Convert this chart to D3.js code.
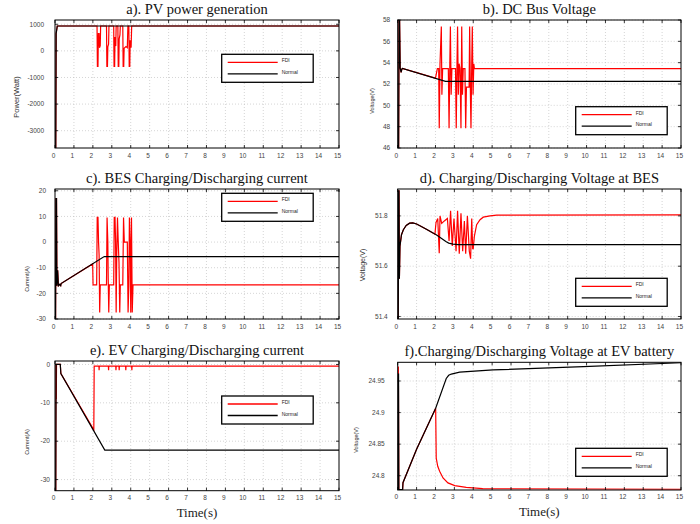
<!DOCTYPE html>
<meta charset="utf-8">
<script src="https://cdnjs.cloudflare.com/ajax/libs/d3/7.8.5/d3.min.js"></script>
<body style="margin: 0; background: white;">
<svg id="vis"></svg>
<script>

  /***** DATA (time in s, value) *****/

  var xTicks = d3.range(0, 16)

  // a). PV power
  var pvTicks = [-3000, -2000, -1000, 0, 1000]
  var pvNormal = [[0,-3650],[0.04,-3650],[0.06,650],[0.12,935],[15,935]]
  var pvFdi = [[0,-3650],[0.04,-3650],[0.06,650],[0.12,935],[2.22,935],[2.24,-580],[2.27,-580],[2.29,650],[2.33,650],[2.35,120],[2.39,200],[2.41,935],
    [2.72,935],[2.74,-580],[2.77,-580],[2.79,150],[2.83,250],[2.85,935],[3.1,935],[3.12,-580],[3.15,-580],[3.17,520],[3.21,180],[3.23,935],
    [3.32,935],[3.34,-580],[3.37,-580],[3.39,450],[3.43,600],[3.45,935],[3.58,935],[3.6,-580],[3.63,-580],[3.65,100],[3.75,160],[3.82,120],[3.85,935],
    [3.9,935],[3.92,-580],[3.95,-580],[3.97,400],[4.02,120],[4.05,935],[15,935]]

  // b). DC bus voltage
  var busTicks = [46, 48, 50, 52, 54, 56, 58]
  var busNormal = [[0,46],[0.05,46],[0.07,58],[0.1,58],[0.13,53.5],[0.18,53.1],[0.22,53.4],[0.25,53.45],[2.53,52.25],[15,52.25]]
  var busFdi = [[0,46],[0.05,46],[0.07,58],[0.1,58],[0.13,53.5],[0.18,53.1],[0.22,53.4],[0.25,53.45],[2.0,52.55],[2.1,53.45],[2.17,53.45],
    [2.2,47.85],[2.24,53.9],[2.31,57.4],[2.34,51.0],[2.38,53.45],[2.68,53.45],[2.72,47.85],[2.76,53.9],[2.79,57.4],[2.83,51.0],[2.87,53.45],
    [3.06,53.45],[3.1,47.85],[3.14,53.9],[3.17,57.4],[3.21,51.0],[3.25,53.9],[3.3,53.45],[3.35,47.85],[3.39,57.4],[3.43,51.0],[3.47,53.45],
    [3.56,53.45],[3.6,47.85],[3.64,51.7],[3.78,51.7],[3.81,57.4],[3.85,51.0],[3.88,47.85],[3.92,53.9],[3.95,57.4],[3.99,51.0],[4.03,53.9],
    [4.06,53.45],[15,53.45]]

  // c). BES current
  var besITicks = [-30, -20, -10, 0, 10, 20]
  var besINormal = [[0,-30],[0.03,-30],[0.05,17],[0.08,17],[0.1,-17],[0.14,-11],[0.18,-17],[0.24,-16.5],[0.3,-17],[0.32,-16.2],[2.6,-5.65],[15,-5.65]]
  var besIFdi = [[0,-30],[0.03,-30],[0.05,17],[0.08,17],[0.1,-17],[0.14,-11],[0.18,-17],[0.24,-16.5],[0.3,-17],[0.32,-16.2],[1.99,-8.5],
    [2.01,-16.7],[2.2,-16.7],[2.23,9.6],[2.27,9.6],[2.3,0],[2.33,-5],[2.36,-27.5],[2.39,-16.7],[2.72,-16.7],[2.75,9.6],[2.79,0],[2.81,-14],
    [2.84,-27.5],[2.87,-16.7],[3.1,-16.7],[3.13,9.6],[3.17,9.6],[3.2,0],[3.23,-27.5],[3.26,-5],[3.3,9.6],[3.34,0],[3.38,-8],[3.42,-27.5],
    [3.45,-16.7],[3.58,-16.7],[3.62,9.6],[3.66,0],[3.82,0],[3.86,-27.5],[3.9,-16.7],[3.93,9.6],[3.97,0],[4.0,-27.5],[4.04,9.6],[4.08,-27.5],
    [4.12,-16.7],[15,-16.7]]

  // d). BES voltage
  var besVTicks = [51.4, 51.6, 51.8]
  var besVNormal = [[0,51.39],[0.03,51.39],[0.05,51.9],[0.07,51.9],[0.09,51.55],[0.12,51.68],[0.2,51.725],[0.3,51.745],[0.45,51.762],
    [0.63,51.771],[0.8,51.772],[1.0,51.768],[1.25,51.758],[1.52,51.747],[1.8,51.735],[2.04,51.725],[2.25,51.714],[2.4,51.706],[2.55,51.698],
    [2.7,51.692],[2.93,51.688],[3.2,51.686],[15,51.686]]
  var besVFdi = [[0,51.39],[0.03,51.39],[0.05,51.9],[0.07,51.9],[0.09,51.55],[0.12,51.68],[0.2,51.725],[0.3,51.745],[0.45,51.762],
    [0.63,51.771],[0.8,51.772],[1.0,51.768],[1.25,51.758],[1.52,51.747],[1.8,51.735],[1.97,51.727],[2.03,51.774],[2.12,51.79],[2.2,51.652],
    [2.24,51.8],[2.33,51.77],[2.47,51.78],[2.63,51.79],[2.72,51.70],[2.8,51.82],[2.89,51.68],[2.98,51.79],[3.09,51.66],[3.17,51.82],
    [3.26,51.65],[3.35,51.81],[3.44,51.66],[3.53,51.78],[3.6,51.65],[3.69,51.80],[3.79,51.66],[3.86,51.63],[3.92,51.79],[3.97,51.67],
    [4.0,51.67],[4.06,51.72],[4.18,51.765],[4.36,51.785],[4.53,51.795],[4.89,51.8],[5.24,51.803],[15,51.804]]

  // e). EV current
  var evITicks = [-30, -20, -10, 0]
  var evINormal = [[0,-32.9],[0.04,-32.9],[0.06,0],[0.28,0],[0.31,-2.4],[2.63,-22.3],[15,-22.3]]
  var evIFdi = [[0,-32.9],[0.04,-32.9],[0.05,0],[0.07,-9],[0.08,0],[0.28,0],[0.31,-2.4],[2.05,-17.0],[2.07,-0.45],[2.32,-0.45],[2.33,-1.5],
    [2.34,-0.45],[2.82,-0.45],[2.83,-1.5],[2.84,-0.45],[3.21,-0.45],[3.22,-1.5],[3.23,-0.45],[3.38,-0.45],[3.39,-1.5],[3.4,-0.45],
    [3.73,-0.45],[3.74,-1.5],[3.75,-0.45],[4.05,-0.45],[4.06,-1.5],[4.07,-0.45],[15,-0.45]]

  // f). EV voltage
  var evVTicks = [24.8, 24.85, 24.9, 24.95]
  var evVNormal = [[0,24.7774],[0.03,24.7774],[0.045,24.962],[0.06,24.778],[0.26,24.778],[0.28,24.789],[1.0,24.842],[2.01,24.907],
    [2.57,24.954],[2.7,24.959],[2.84,24.961],[3.28,24.964],[5.05,24.9675],[9.83,24.9726],[15,24.9789]]
  var evVFdi = [[0,24.7774],[0.02,24.7774],[0.035,24.973],[0.06,24.778],[0.26,24.778],[0.28,24.789],[1.0,24.842],[2.01,24.907],
    [2.04,24.828],[2.12,24.815],[2.22,24.807],[2.4,24.7965],[2.66,24.7886],[3.02,24.7844],[3.63,24.7817],[4.5,24.7795],[15,24.7786]]

  var legendNames = ['FDI', 'Normal']


  /***** LAYOUT *****/

  var panels = [
    {title: 'a). PV power generation', ylab: 'Power(Watt)', x: 55, y: 20, w: 284, h: 128, dom: [-3650, 1160], ticks: pvTicks,
      fdi: pvFdi, normal: pvNormal, leg: [221.7, 54.3], labGap: 11, ylx: 16, yly: 97, ylSize: 7.5},
    {title: 'b). DC Bus Voltage', ylab: 'Voltage(V)', x: 397.7, y: 20, w: 283.3, h: 128, dom: [46, 58], ticks: busTicks,
      fdi: busFdi, normal: busNormal, leg: [575.7, 106.7], labGap: 7.5, ylx: 371.7, yly: 101, ylSize: 5.5},
    {title: 'c). BES Charging/Discharging current', ylab: 'Current(A)', x: 55, y: 189, w: 284, h: 130, dom: [-30, 20.7], ticks: besITicks,
      fdi: besIFdi, normal: besINormal, leg: [221.7, 193.3], labGap: 9, ylx: 26.7, yly: 279, ylSize: 5.5},
    {title: 'd). Charging/Discharging Voltage at BES', ylab: 'Voltage(V)', x: 397.7, y: 189, w: 283.3, h: 130, dom: [51.39, 51.907], ticks: besVTicks,
      fdi: besVFdi, normal: besVNormal, leg: [575.7, 278.3], labGap: 10, ylx: 362.7, yly: 265, ylSize: 7},
    {title: 'e). EV Charging/Discharging current', ylab: 'Current(A)', x: 55, y: 361, w: 284, h: 129.7, dom: [-32.9, 0.9], ticks: evITicks,
      fdi: evIFdi, normal: evINormal, leg: [221.7, 396], labGap: 5, ylx: 26.7, yly: 442, ylSize: 5.5, xlab: true},
    {title: 'f).Charging/Discharging Voltage at EV battery', ylab: 'Voltage(V)', x: 397.7, y: 362.3, w: 283.3, h: 127.7, dom: [24.7774, 24.9796], ticks: evVTicks,
      fdi: evVFdi, normal: evVNormal, leg: [575.7, 448.3], labGap: 13, ylx: 356, yly: 440, ylSize: 5.5, xlab: true}
  ]

  var svg = d3.select('#vis')
    .attr('width', 700)
    .attr('height', 524)
    .style('background-color', 'white')

  var fmt = d3.formatLocale({decimal: '.', thousands: '', grouping: [3], currency: ['', ''], minus: '-'}).format('~g')
  var serif = '"Liberation Serif", "Times New Roman", serif'
  var sans = '"Liberation Sans", Arial, sans-serif'


  /***** DRAW PANELS *****/

  panels.forEach(function (p, i) {
    var xs = d3.scaleLinear().domain([0, 15]).range([0, p.w])
    var ys = d3.scaleLinear().domain(p.dom).range([p.h, 0])

    var g = svg.append('g').attr('transform', 'translate(' + p.x + ',' + p.y + ')')

    g.append('clipPath').attr('id', 'clip' + i)
      .append('rect').attr('width', p.w).attr('height', p.h)

    // Grid
    g.selectAll('.gx').data(xTicks.slice(1, -1)).enter().append('line')
      .attr('x1', function (d) { return xs(d) }).attr('x2', function (d) { return xs(d) })
      .attr('y1', 0).attr('y2', p.h)
      .attr('stroke', '#b8b8b8').attr('stroke-width', 0.6).attr('stroke-dasharray', '1,2')
    g.selectAll('.gy').data(p.ticks).enter().append('line')
      .attr('y1', function (d) { return ys(d) }).attr('y2', function (d) { return ys(d) })
      .attr('x1', 0).attr('x2', p.w)
      .attr('stroke', '#b8b8b8').attr('stroke-width', 0.6).attr('stroke-dasharray', '1,2')

    // Lines
    var line = d3.line()
      .x(function (d) { return xs(d[0]) })
      .y(function (d) { return ys(d[1]) })

    var lines = g.append('g').attr('clip-path', 'url(#clip' + i + ')')
    lines.append('path').attr('d', line(p.fdi))
      .attr('fill', 'none').attr('stroke', '#ff0000').attr('stroke-width', 1.2)
    lines.append('path').attr('d', line(p.normal))
      .attr('fill', 'none').attr('stroke', '#000000').attr('stroke-width', 1.2)

    // Box
    g.append('rect').attr('width', p.w).attr('height', p.h)
      .attr('fill', 'none').attr('stroke', 'black').attr('stroke-width', 1)

    // Inward ticks on all four sides
    var tickLen = 3
    xTicks.forEach(function (d) {
      g.append('line').attr('x1', xs(d)).attr('x2', xs(d)).attr('y1', p.h).attr('y2', p.h - tickLen).attr('stroke', 'black').attr('stroke-width', 0.8)
      g.append('line').attr('x1', xs(d)).attr('x2', xs(d)).attr('y1', 0).attr('y2', tickLen).attr('stroke', 'black').attr('stroke-width', 0.8)
    })
    p.ticks.forEach(function (d) {
      g.append('line').attr('y1', ys(d)).attr('y2', ys(d)).attr('x1', 0).attr('x2', tickLen).attr('stroke', 'black').attr('stroke-width', 0.8)
      g.append('line').attr('y1', ys(d)).attr('y2', ys(d)).attr('x1', p.w).attr('x2', p.w - tickLen).attr('stroke', 'black').attr('stroke-width', 0.8)
    })

    // Tick labels
    g.selectAll('.xl').data(xTicks).enter().append('text')
      .text(function (d) { return d })
      .attr('x', function (d) { return xs(d) - 1.5 })
      .attr('y', p.h + 9.5)
      .attr('text-anchor', 'middle')
      .style('font-family', sans).style('font-size', '6.5px').style('fill', '#444')
    g.selectAll('.yl').data(p.ticks).enter().append('text')
      .text(function (d) { return fmt(d) })
      .attr('x', -p.labGap)
      .attr('y', function (d) { return ys(d) + 2.3 })
      .attr('text-anchor', 'end')
      .style('font-family', sans).style('font-size', '6.5px').style('fill', '#444')

    // Title
    g.append('text').text(p.title)
      .attr('x', p.w / 2).attr('y', -6)
      .attr('text-anchor', 'middle')
      .style('font-family', serif).style('font-size', '14.5px').style('fill', '#111')

    // Y label
    svg.append('text').text(p.ylab)
      .attr('transform', 'translate(' + (p.ylx + p.ylSize * 0.35) + ',' + p.yly + ') rotate(-90)')
      .attr('text-anchor', 'middle')
      .style('font-family', sans).style('font-size', p.ylSize + 'px').style('fill', '#333')

    // X label
    if (p.xlab) {
      g.append('text').text('Time(s)')
        .attr('x', p.w / 2).attr('y', p.h + 26)
        .attr('text-anchor', 'middle')
        .style('font-family', serif).style('font-size', '13px').style('fill', '#222')
    }

    // Legend
    var lg = svg.append('g').attr('transform', 'translate(' + p.leg[0] + ',' + p.leg[1] + ')')
    lg.append('rect').attr('width', 91.5).attr('height', 28)
      .attr('fill', 'white').attr('stroke', 'black').attr('stroke-width', 1.3)
    legendNames.forEach(function (name, k) {
      var ly = 8 + k * 11.5
      lg.append('line').attr('x1', 6).attr('x2', 56).attr('y1', ly).attr('y2', ly)
        .attr('stroke', k === 0 ? '#ff0000' : '#000000').attr('stroke-width', 1.3)
      lg.append('text').text(name)
        .attr('x', 60).attr('y', ly)
        .style('font-family', sans).style('font-size', '5px').style('fill', '#222')
    })
  })

</script>
</body>
